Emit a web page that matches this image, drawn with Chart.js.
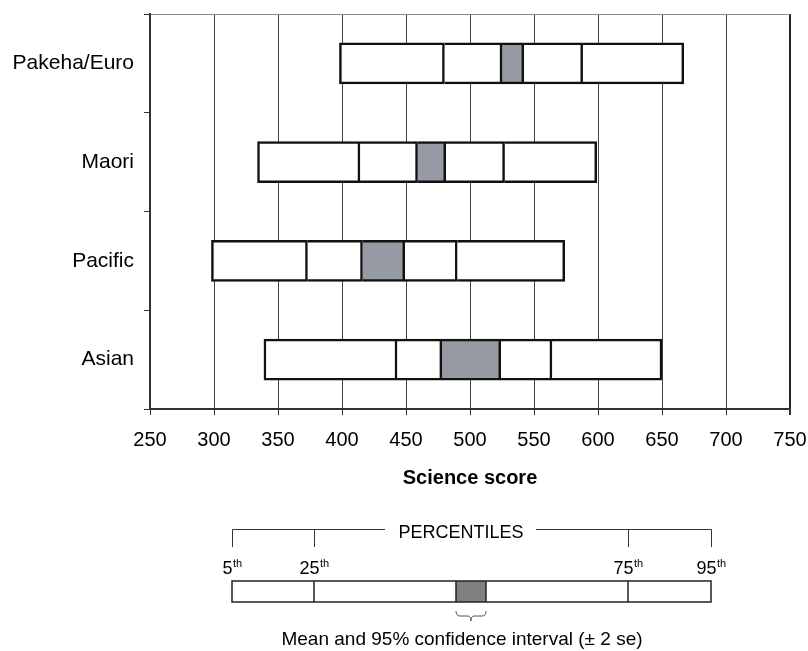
<!DOCTYPE html>
<html>
<head>
<meta charset="utf-8">
<title>Science score by ethnic group</title>
<script src="https://cdn.jsdelivr.net/npm/chart.js@4.4.1/dist/chart.umd.min.js"></script>
<style>
  html, body { margin: 0; padding: 0; background: #fff; }
  #wrap { width: 808px; height: 651px; }
</style>
</head>
<body>
<div id="wrap"><canvas id="scoreChart" width="808" height="651"></canvas></div>
<script>
// Values (science score)
const groups = ["Pakeha/Euro", "Maori", "Pacific", "Asian"];
const p5     = [398, 334, 298, 339];
const p25    = [480, 414, 373, 443];
const ciLow  = [525, 459, 416, 478];
const ciHigh = [542, 481, 449, 524];
const p75    = [588, 527, 490, 564];
const p95    = [667, 599, 574, 650];
const xTicks = [250, 300, 350, 400, 450, 500, 550, 600, 650, 700, 750];

const FONT = "'Liberation Sans', Arial, sans-serif";
Chart.defaults.font.family = FONT;

// Segments of each bar: 5th-25th, 25th-CI, CI, CI-75th, 75th-95th
const bounds = [p5, p25, ciLow, ciHigh, p75, p95];
const segNames = ["5th-25th", "25th-mean", "95% CI", "mean-75th", "75th-95th"];
const segFill = ["#ffffff", "#ffffff", "#969aa2", "#ffffff", "#ffffff"];

const BW = 2.5;
const datasets = segNames.map((name, i) => ({
  label: name,
  data: groups.map((g, j) => [bounds[i][j], bounds[i + 1][j]]),
  backgroundColor: segFill[i],
  borderColor: "#111",
  // only the first segment draws a left edge, so dividers are not doubled
  borderWidth: { top: BW, right: BW, bottom: BW, left: i === 0 ? BW : 0 },
  borderSkipped: false,
  barThickness: 41,
  grouped: false
}));

// Key drawn under the chart (schematic, not data)
const keyPlugin = {
  id: "percentileKey",
  afterDraw(chart) {
    const c = chart.ctx;
    const xs = [232, 314, 456, 486, 628, 711];
    const [x5, x25, xLo, xHi, x75, x95] = xs;
    const top = 581, bot = 602, brY = 529, brDrop = 547;
    c.save();

    // bracket with PERCENTILES
    c.strokeStyle = "#333";
    c.lineWidth = 1;
    c.beginPath();
    c.moveTo(x5 + 0.5, brDrop); c.lineTo(x5 + 0.5, brY + 0.5); c.lineTo(385, brY + 0.5);
    c.moveTo(536, brY + 0.5); c.lineTo(x95 + 0.5, brY + 0.5); c.lineTo(x95 + 0.5, brDrop);
    c.moveTo(x25 + 0.5, brY); c.lineTo(x25 + 0.5, brDrop);
    c.moveTo(x75 + 0.5, brY); c.lineTo(x75 + 0.5, brDrop);
    c.stroke();

    c.fillStyle = "#000";
    c.font = "18px " + FONT;
    c.textAlign = "center";
    c.textBaseline = "middle";
    c.fillText("PERCENTILES", 461, 533);

    // percentile labels with superscript
    ["5", "25", "75", "95"].forEach((n, k) => {
      const cx = [x5, x25, x75, x95][k];
      c.font = "18px " + FONT;
      const w1 = c.measureText(n).width;
      c.font = "11px " + FONT;
      const w2 = c.measureText("th").width;
      const sx = cx - (w1 + w2) / 2;
      c.textAlign = "left";
      c.textBaseline = "alphabetic";
      c.font = "18px " + FONT;
      c.fillText(n, sx, 574);
      c.font = "11px " + FONT;
      c.fillText("th", sx + w1 + 0.5, 567);
    });

    // box
    c.fillStyle = "#fff";
    c.fillRect(x5, top, x95 - x5, bot - top);
    c.fillStyle = "#808080";
    c.fillRect(xLo, top, xHi - xLo, bot - top);
    c.strokeStyle = "#222";
    c.lineWidth = 1.5;
    c.strokeRect(x5, top, x95 - x5, bot - top);
    c.beginPath();
    [x25, xLo, xHi, x75].forEach(x => { c.moveTo(x, top); c.lineTo(x, bot); });
    c.stroke();

    // brace under CI
    const mid = (xLo + xHi) / 2;
    c.strokeStyle = "#555";
    c.lineWidth = 1;
    c.beginPath();
    c.moveTo(xLo, 611);
    c.quadraticCurveTo(xLo, 616, xLo + 4, 616);
    c.lineTo(mid - 3, 616);
    c.quadraticCurveTo(mid, 616, mid, 621);
    c.quadraticCurveTo(mid, 616, mid + 3, 616);
    c.lineTo(xHi - 4, 616);
    c.quadraticCurveTo(xHi, 616, xHi, 611);
    c.stroke();

    c.fillStyle = "#000";
    c.font = "19px " + FONT;
    c.textAlign = "center";
    c.textBaseline = "middle";
    c.fillText("Mean and 95% confidence interval (\u00b1 2 se)", 462, 640);
    c.restore();
  }
};

new Chart(document.getElementById("scoreChart").getContext("2d"), {
  type: "bar",
  data: { labels: groups, datasets },
  options: {
    indexAxis: "y",
    responsive: false,
    animation: false,
    layout: { padding: { top: 14, right: 18, bottom: 161, left: 0 } },
    plugins: { legend: { display: false }, tooltip: { enabled: false } },
    scales: {
      x: {
        type: "linear",
        min: xTicks[0],
        max: xTicks[xTicks.length - 1],
        afterBuildTicks: (scale) => { scale.ticks = xTicks.map(v => ({ value: v })); },
        afterFit: (scale) => { scale.paddingLeft = 0; scale.paddingRight = 0; },
        ticks: { color: "#000", font: { size: 20 }, padding: 13 },
        grid: {
          color: (ctx) => ctx.tick && ctx.tick.value === 750 ? "#222" : ctx.tick && ctx.tick.value === 250 ? "rgba(0,0,0,0)" : "#444",
          lineWidth: (ctx) => ctx.tick && ctx.tick.value === 750 ? 2 : 1,
          tickLength: 6,
          tickColor: "#333"
        },
        border: { color: "#333", width: 2 },
        title: {
          display: true,
          text: "Science score",
          color: "#000",
          font: { size: 20, weight: "bold" },
          padding: { top: 1, bottom: 0 }
        }
      },
      y: {
        ticks: { color: "#000", font: { size: 21 }, padding: 10 },
        grid: {
          color: (ctx) => ctx.index === 0 ? "#8a8a8a" : "rgba(0,0,0,0)",
          tickLength: 6,
          tickColor: "#333"
        },
        border: { color: "#333", width: 2 },
        afterFit: (scale) => { scale.width = 150; scale.paddingTop = 0; scale.paddingBottom = 0; }
      }
    }
  },
  plugins: [keyPlugin]
});
</script>
</body>
</html>
